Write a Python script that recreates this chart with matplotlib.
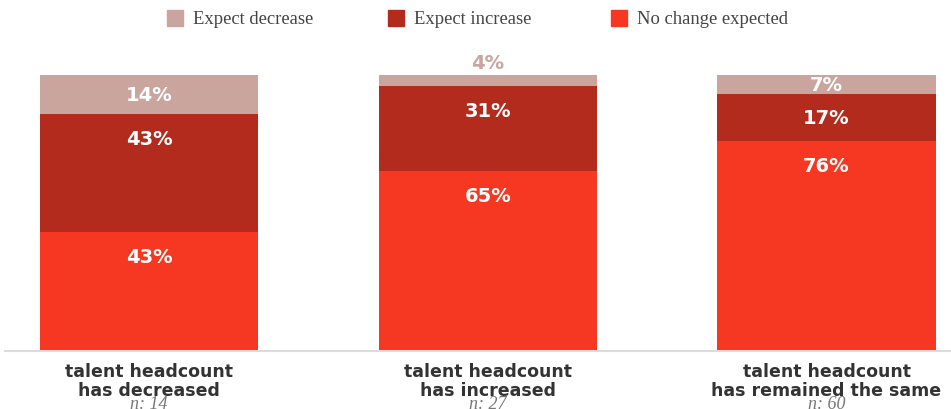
import matplotlib.pyplot as plt
import numpy as np

# share of respondents by what happened to talent headcount
groups = ['talent headcount\nhas decreased', 'talent headcount\nhas increased',
          'talent headcount\nhas remained the same']
sample_n = [14, 27, 60]
no_change = [43, 65, 76]
expect_increase = [43, 31, 17]
expect_decrease = [14, 4, 7]

c_decrease = '#c9a59d'
c_increase = '#b32b1c'
c_nochange = '#f63721'

fig = plt.figure(figsize=(9.51, 4.1), dpi=100)
ax = fig.add_axes([0, 59 / 410, 1, 275 / 410])

x = np.arange(len(groups))
width = 0.644

segments = [(no_change, c_nochange, 'No change expected'),
            (expect_increase, c_increase, 'Expect increase'),
            (expect_decrease, c_decrease, 'Expect decrease')]

bottom = np.zeros(len(groups))
for vals, col, name in segments:
    vals = np.array(vals, dtype=float)
    ax.bar(x, vals, width, bottom=bottom, color=col, label=name)
    for i, v in enumerate(vals):
        top = bottom[i] + v
        if v < 5:
            # too thin for a label inside, put it above the bar
            ax.text(x[i], top + 4.5, f'{int(v)}%', ha='center', va='center',
                    color=col, fontsize=14, fontweight='bold', clip_on=False)
        else:
            ypos = top - min(v / 2, 9)
            ax.text(x[i], ypos, f'{int(v)}%', ha='center', va='center',
                    color='white', fontsize=14, fontweight='bold')
    bottom += vals

ax.set_xlim(-149 / 338.75, (951 - 149) / 338.75)
ax.set_ylim(0, 100)
ax.axis('off')
ax.axhline(-0.4, xmin=5 / 951, xmax=1, color='#dcdcdc', lw=1.5, zorder=0,
           clip_on=False)

for i, g in enumerate(groups):
    ax.text(x[i], -11, g, ha='center', va='center', fontsize=12.5, fontweight='bold',
            color='#333333', linespacing=1.1, clip_on=False)
    ax.text(x[i], -19.3, f'n: {sample_n[i]}', ha='center', va='center', fontsize=13,
            style='italic', family='Liberation Serif', color='#777777', clip_on=False)

# legend along the top
legend_items = [(c_decrease, 'Expect decrease', 167),
                (c_increase, 'Expect increase', 388),
                (c_nochange, 'No change expected', 611)]
for col, name, px in legend_items:
    fig.patches.append(plt.Rectangle((px / 951, 1 - 27 / 410), 16 / 951, 16 / 410,
                                     transform=fig.transFigure, color=col))
    fig.text((px + 26) / 951, 1 - 19 / 410, name, ha='left', va='center',
             fontsize=13.4, family='Liberation Serif', color='#444444')

fig.savefig('out.png', dpi=100)
